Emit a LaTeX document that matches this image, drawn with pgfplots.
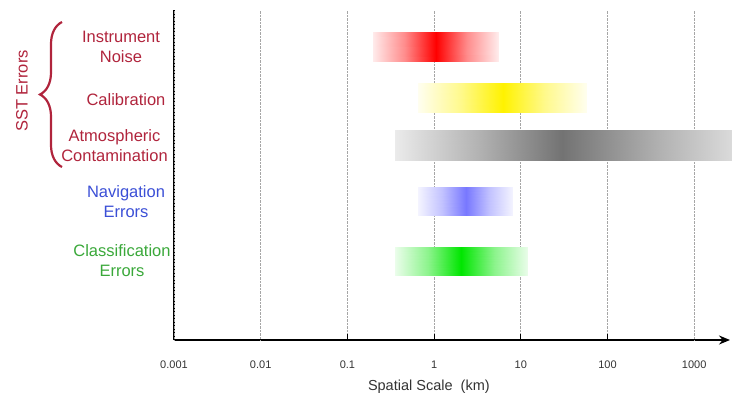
\documentclass[border=0pt]{standalone}
\usepackage{pgfplots}
\pgfplotsset{compat=1.18}
\usepackage{fontspec}
\setmainfont{Liberation Sans}
\usetikzlibrary{decorations.pathreplacing,arrows.meta}
\definecolor{sstred}{HTML}{B0243C}
\definecolor{navblue}{HTML}{3B4FD6}
\definecolor{clsgreen}{HTML}{3AA83A}
\definecolor{txtgray}{HTML}{333333}
\definecolor{barblue}{RGB}{120,120,255}
\definecolor{bargreen}{RGB}{0,230,0}
\begin{document}
\begin{tikzpicture}[x=1pt,y=1pt]
\begin{axis}[
  at={(0,0)}, anchor=south west, scale only axis,
  width=556pt, height=330pt,
  xmode=log, xmin=0.001, xmax=2588, ymin=0, ymax=330,
  axis x line=bottom, axis y line=left,
  x axis line style={-{Stealth[length=11pt,width=9pt]}, line width=1.6pt},
  y axis line style={-, line width=1.6pt},
  ytick=\empty,
  xminorticks=false,
  xtick={0.1,1,10,100}, xticklabels={0.1,1,10,100},
  extra x ticks={0.001,0.01,1000}, extra x tick labels={0.001,0.01,1000},
  extra x tick style={grid=major, major tick length=0pt},
  major tick length=6pt, tick align=inside, tick style={black, line width=1pt},
  xmajorgrids, grid style={densely dotted, gray!70, line width=0.8pt},
  xticklabel style={anchor=base, yshift=-28.5pt, font=\fontsize{11}{13}\selectfont, text=txtgray},
  point meta min=0, point meta max=1,
  clip=false,
]
% Instrument noise
\addplot[surf, shader=interp, point meta=explicit, mesh/rows=2,
  colormap={mred}{color=(red!8) color=(red!45) color=(red)}] coordinates {
(0.2,278) [0] (1.05,278) [1] (5.5,278) [0]

(0.2,308) [0] (1.05,308) [1] (5.5,308) [0]
};
% Calibration
\addplot[surf, shader=interp, point meta=explicit, mesh/rows=2,
  colormap={myel}{color=(yellow!6) color=(yellow!45) color=(yellow)}] coordinates {
(0.66,227) [0] (6.16,227) [1] (57.5,227) [0]

(0.66,257) [0] (6.16,257) [1] (57.5,257) [0]
};
% Atmospheric contamination
\addplot[surf, shader=interp, point meta=explicit, mesh/rows=2,
  colormap={mgray}{color=(black!8) color=(black!30) color=(black!55)}] coordinates {
(0.355,180) [0] (30,180) [1] (2690,180) [0.15]

(0.355,210) [0] (30,210) [1] (2690,210) [0.15]
};
% Navigation
\addplot[surf, shader=interp, point meta=explicit, mesh/rows=2,
  colormap={mblue}{color=(barblue!8) color=(barblue!45) color=(barblue)}] coordinates {
(0.66,125) [0] (2.31,125) [1] (8.1,125) [0]

(0.66,153) [0] (2.31,153) [1] (8.1,153) [0]
};
% Classification
\addplot[surf, shader=interp, point meta=explicit, mesh/rows=2,
  colormap={mgreen}{color=(bargreen!8) color=(bargreen!45) color=(bargreen)}] coordinates {
(0.355,65) [0] (2.06,65) [1] (12,65) [0]

(0.355,93) [0] (2.06,93) [1] (12,93) [0]
};
\node[anchor=base, font=\fontsize{14.5}{16}\selectfont, text=txtgray] at (axis cs:0.87,-50) {Spatial Scale\ \ (km)};
\end{axis}
\begin{scope}[font=\fontsize{16.5}{20}\selectfont]
\node[align=center, text=sstred] at (-53,293) {Instrument\\Noise};
\node[align=center, text=sstred] at (-48,240) {Calibration};
\node[align=center, text=sstred] at (-59.5,194) {Atmospheric\\Contamination};
\node[align=center, text=navblue] at (-48,138) {Navigation\\Errors};
\node[align=center, text=clsgreen] at (-52,79) {Classification\\Errors};
\node[text=sstred, rotate=90] at (-152,249) {SST Errors};
\end{scope}
\draw[sstred, line width=2.2pt, decorate, decoration={brace, amplitude=22pt}] (-112,173) -- (-112,318);
\pgfresetboundingbox
\path (-174,-60) rectangle (559,340);
\end{tikzpicture}
\end{document}
